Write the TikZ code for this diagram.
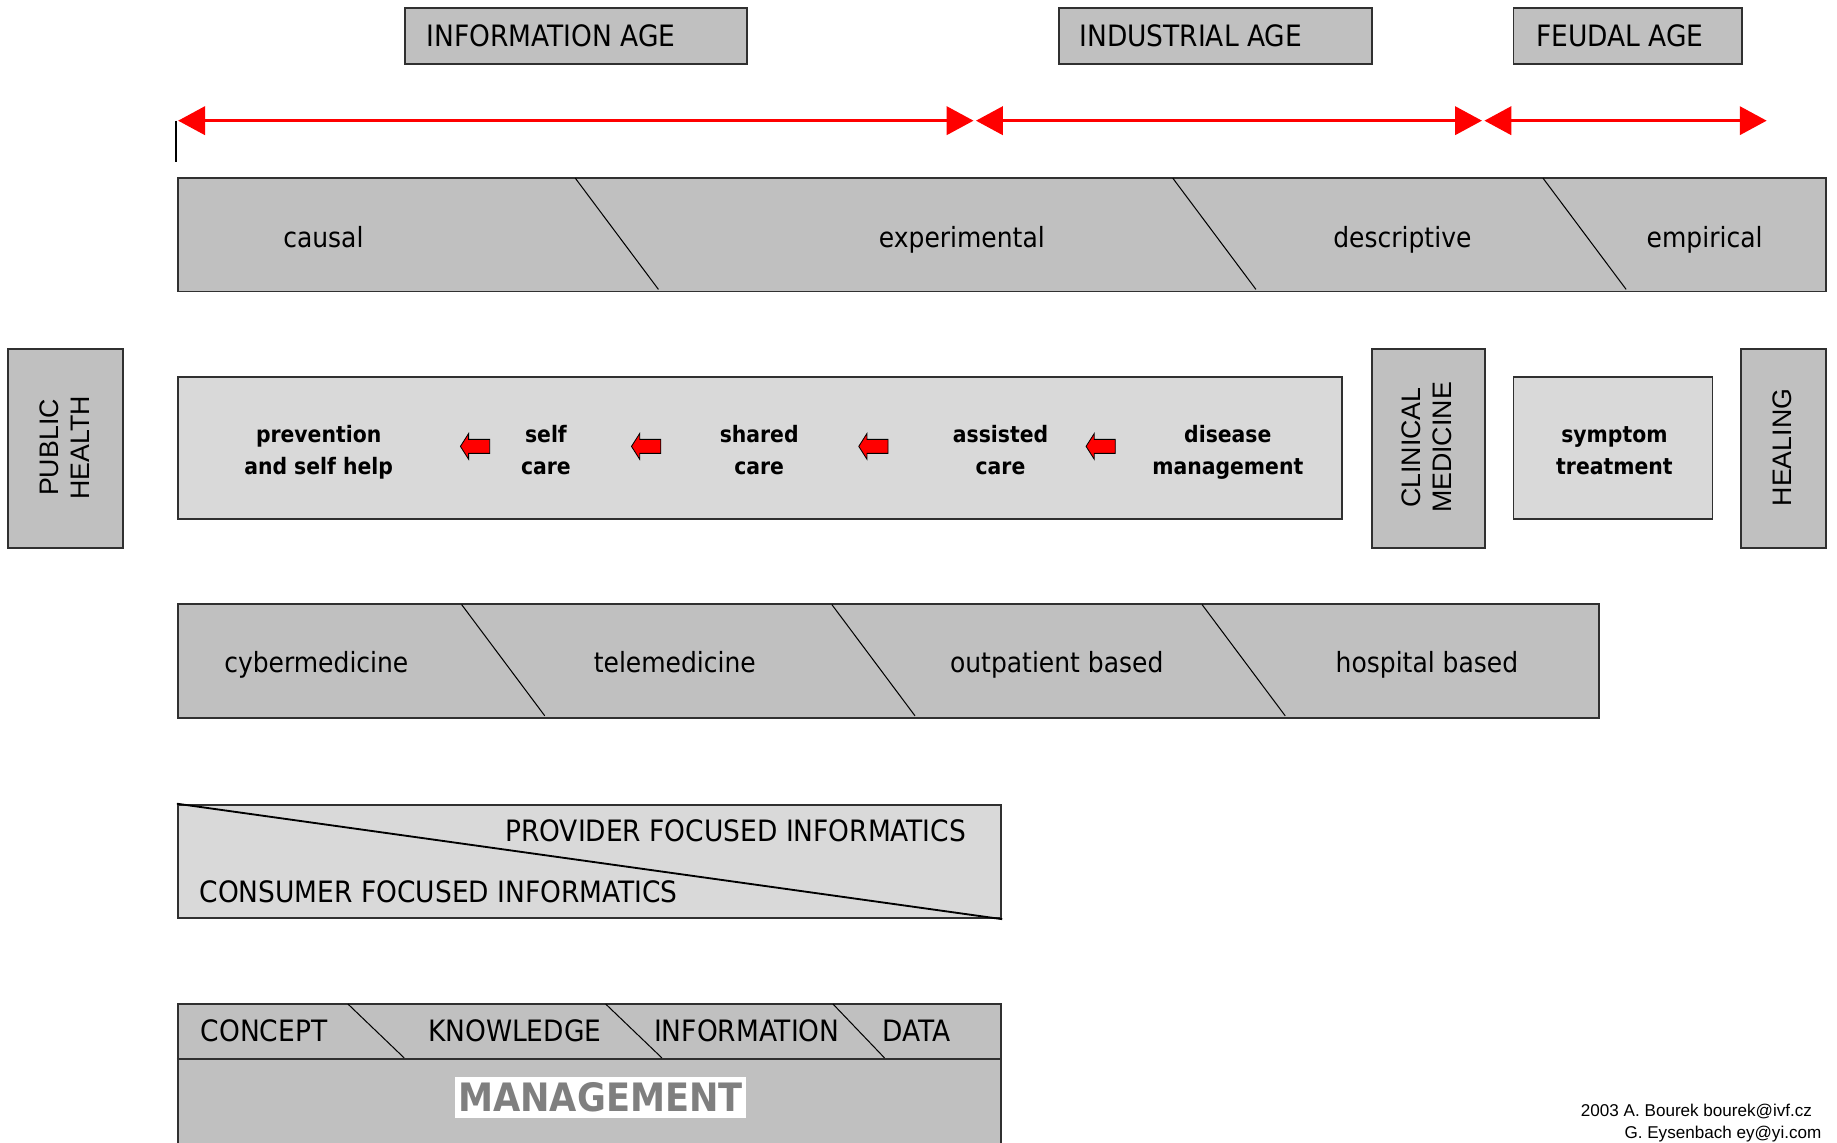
\documentclass[tikz,border=0pt]{standalone}
\usepackage{fontspec}
\setmainfont{DejaVu Sans Condensed}
\newfontfamily\arialf{Liberation Sans}
\usetikzlibrary{arrows.meta}
\definecolor{boxgray}{HTML}{C0C0C0}
\definecolor{dotgray}{HTML}{D9D9D9}
\definecolor{edgegray}{HTML}{303030}
\definecolor{mgray}{HTML}{7F7F7F}
\begin{document}
\begin{tikzpicture}[x=0.02cm,y=-0.02cm,
  graybox/.style={draw=edgegray, line width=0.9pt, fill=boxgray, inner sep=0pt, anchor=north west},
  dotbox/.style={draw=edgegray, line width=0.9pt, fill=dotgray, inner sep=0pt, anchor=north west},
  divider/.style={draw=black, line width=0.5pt},
  captxt/.style={font=\fontsize{14.3}{16}\selectfont, inner sep=0pt},
  lowtxt/.style={font=\fontsize{13.5}{16}\selectfont, inner sep=0pt, anchor=base},
  boldtxt/.style={font=\fontsize{11}{15.6}\selectfont\bfseries, align=center, inner sep=0pt},
  vtxt/.style={font=\arialf\fontsize{13}{15}\selectfont, align=center, rotate=90, inner sep=0pt},
  agearrow/.style={draw=red, line width=0.06cm, arrows={Triangle[length=0.46cm,width=0.48cm,fill=red]-Triangle[length=0.46cm,width=0.48cm,fill=red]}},
  larrow/.pic={\draw[fill=red, draw=black, line width=0.4pt, line join=miter]
     (-12,0) -- (-5,-11) -- (-5,-6) -- (13,-6) -- (13,6) -- (-5,6) -- (-5,11) -- cycle;}
]
\useasboundingbox[fill=white] (0,0) rectangle (1568,975);

% ages
\node[graybox, minimum width=5.84cm, minimum height=0.96cm] (info) at (345,6) {};
\node[captxt, anchor=base west] (infot) at (364,40) {INFORMATION AGE};
\node[graybox, minimum width=5.34cm, minimum height=0.96cm] (indu) at (903,6) {};
\node[captxt, anchor=base west] (indut) at (921,40) {INDUSTRIAL AGE};
\node[graybox, minimum width=3.90cm, minimum height=0.96cm] (feud) at (1291,6) {};
\node[captxt, anchor=base west] (feudt) at (1311,40) {FEUDAL AGE};

% timeline
\coordinate (t0) at (152,103);
\coordinate (t1) at (831,103);
\coordinate (t2) at (833,103);
\coordinate (t3) at (1265,103);
\coordinate (t4) at (1267,103);
\coordinate (t5) at (1508,103);
\coordinate (tk) at (150,103);
\coordinate (tkb) at (150,138);
\draw[line width=0.8pt] (tk) -- (tkb);
\draw[agearrow] (t0) -- (t1);
\draw[agearrow] (t2) -- (t3);
\draw[agearrow] (t4) -- (t5);

% row 1
\node[graybox, minimum width=28.14cm, minimum height=1.94cm] (r1) at (151,151) {};
\draw[divider] (491,152) -- (562,247);
\draw[divider] (1001,152) -- (1072,247);
\draw[divider] (1317,152) -- (1388,247);
\node[lowtxt] (causal) at (276,211) {causal};
\node[lowtxt] (exper) at (821,211) {experimental};
\node[lowtxt] (descr) at (1197,211) {descriptive};
\node[lowtxt] (empir) at (1455,211) {empirical};

% row 2
\node[graybox, minimum width=1.96cm, minimum height=3.40cm] (ph) at (6,297) {};
\node[vtxt] (pht) at (55,382) {PUBLIC\\HEALTH};
\node[dotbox, minimum width=19.88cm, minimum height=2.42cm] (care) at (151,321) {};
\node[boldtxt] (prev) at (272,386.2) {\strut prevention\\\strut and self help};
\node[boldtxt] (selfc) at (466,386.2) {\strut self\\\strut care};
\node[boldtxt] (shared) at (648,386.2) {\strut shared\\\strut care};
\node[boldtxt] (assist) at (854,386.2) {\strut assisted\\\strut care};
\node[boldtxt] (disease) at (1048,386.2) {\strut disease\\\strut management};
\pic at (405,381) {larrow};
\pic at (551,381) {larrow};
\pic at (745,381) {larrow};
\pic at (939,381) {larrow};
\node[graybox, minimum width=1.94cm, minimum height=3.40cm] (clin) at (1170,297) {};
\node[vtxt] (clint) at (1218,382) {CLINICAL\\MEDICINE};
\node[dotbox, minimum width=3.40cm, minimum height=2.42cm] (sympt) at (1291,321) {};
\node[boldtxt] (symptt) at (1378,386.2) {\strut symptom\\\strut treatment};
\node[graybox, minimum width=1.46cm, minimum height=3.40cm] (heal) at (1485,297) {};
\node[vtxt] (healt) at (1521,382) {HEALING};

% row 3
\node[graybox, minimum width=24.26cm, minimum height=1.94cm] (r3) at (151,515) {};
\draw[divider] (394,516) -- (465,611);
\draw[divider] (710,516) -- (781,611);
\draw[divider] (1026,516) -- (1097,611);
\node[lowtxt] (cyber) at (270,574) {cybermedicine};
\node[lowtxt] (tele) at (576,574) {telemedicine};
\node[lowtxt] (outp) at (902,574) {outpatient based};
\node[lowtxt] (hosp) at (1218,574) {hospital based};

% informatics
\node[dotbox, minimum width=14.06cm, minimum height=1.94cm] (inf) at (151,686) {};
\draw[line width=0.9pt] (inf.north west) -- (inf.south east);
\node[captxt, anchor=base east] (prov) at (825,718.5) {PROVIDER FOCUSED INFORMATICS};
\node[captxt, anchor=base west] (cons) at (170,770) {CONSUMER FOCUSED INFORMATICS};

% management
\node[graybox, minimum width=14.06cm, minimum height=3.00cm] (mg) at (151,856) {};
\draw[line width=0.9pt, draw=edgegray] (151,904) -- (854,904);
\draw[divider] (297,857) -- (345,903);
\draw[divider] (517,857) -- (565,903);
\draw[divider] (711,857) -- (755,903);
\node[captxt, anchor=base west] (conc) at (171,889) {CONCEPT};
\node[captxt, anchor=base west] (know) at (365,889) {KNOWLEDGE};
\node[captxt, anchor=base west] (infom) at (558,889) {INFORMATION};
\node[captxt, anchor=base west] (data) at (753,889) {DATA};
\node[fill=white, minimum width=4.98cm, minimum height=0.70cm, inner sep=0pt,
      font=\fontsize{19}{20}\selectfont\bfseries, text=mgray] (mgt) at (512.5,936.5) {MANAGEMENT};

% credits
\node[anchor=base east, inner sep=0pt, font=\arialf\fontsize{8.3}{10}\selectfont] (cr1) at (1547,953) {2003 A. Bourek bourek@ivf.cz};
\node[anchor=base east, inner sep=0pt, font=\arialf\fontsize{8.3}{10}\selectfont] (cr2) at (1555,972) {G. Eysenbach ey@yi.com};
\end{tikzpicture}
\end{document}
